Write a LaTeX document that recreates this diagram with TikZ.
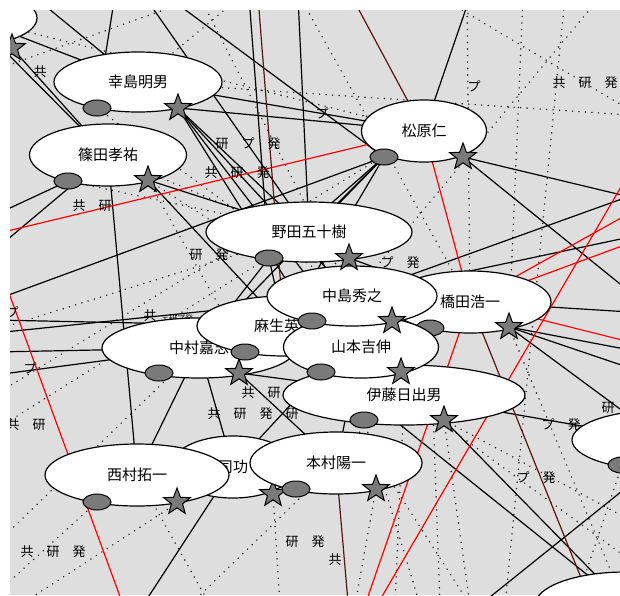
\documentclass[tikz,border=0pt]{standalone}
\usepackage{fontspec}
\newfontfamily\jp{Noto Sans CJK JP}
\usetikzlibrary{shapes.geometric}
\definecolor{bg}{RGB}{222,222,222}
\definecolor{portgray}{RGB}{122,122,122}
\definecolor{darkred}{RGB}{90,20,20}
\tikzset{
 conn/.style={line width=1.2pt, black},
 rconn/.style={line width=1.2pt, red},
 drconn/.style={line width=1.2pt, darkred},
 dconn/.style={line width=1.6pt, dash pattern=on 0pt off 6.5pt, line cap=round, black!90},
 person/.style={ellipse, draw, line width=1.2pt, fill=white, inner sep=0pt, font=\jp\fontsize{15}{17}\selectfont},
 port/.style={ellipse, draw, line width=1pt, fill=portgray, minimum width=28pt, minimum height=16pt, inner sep=0pt},
 starmark/.style={star, star points=5, star point ratio=2.4, draw, line width=1pt, fill=portgray, minimum size=28pt, inner sep=0pt},
 lbl/.style={font=\jp\fontsize{13}{15}\selectfont, inner sep=0pt},
}
\begin{document}
\begin{tikzpicture}[x=1pt,y=-1pt]
\fill[white] (0,0) rectangle (620,595);
\useasboundingbox (0,0) rectangle (620,595);
\fill[bg] (10,10) rectangle (620,595);
\begin{scope}
\clip (10,10) rectangle (620,595);
% centres and ports
\coordinate (n0) at (-28,18);  \coordinate (s0) at (12,48);
\coordinate (n1) at (138,82);  \coordinate (o1) at (97,108);  \coordinate (s1) at (178,108);
\coordinate (n2) at (108,155); \coordinate (o2) at (68,181);  \coordinate (s2) at (148,180);
\coordinate (n3) at (424,131); \coordinate (o3) at (384,157); \coordinate (s3) at (463,157);
\coordinate (n4) at (309,232); \coordinate (o4) at (269,258); \coordinate (s4) at (349,258);
\coordinate (n5) at (352,296); \coordinate (o5) at (312,321); \coordinate (s5) at (392,321);
\coordinate (n6) at (470,302); \coordinate (o6) at (430,328); \coordinate (s6) at (509,327);
\coordinate (n7) at (284,326); \coordinate (o7) at (245,352); \coordinate (s7) at (324,352);
\coordinate (n8) at (199,348); \coordinate (o8) at (159,373); \coordinate (s8) at (239,373);
\coordinate (n9) at (361,347); \coordinate (o9) at (321,372); \coordinate (s9) at (401,372);
\coordinate (n10) at (404,395); \coordinate (o10) at (364,420); \coordinate (s10) at (444,420);
\coordinate (n11) at (662,440); \coordinate (o11) at (622,465);
\coordinate (n12) at (137,475); \coordinate (o12) at (97,502); \coordinate (s12) at (177,502);
\coordinate (n13) at (233,467); \coordinate (s13) at (273,494);
\coordinate (n14) at (336,463); \coordinate (o14) at (296,489); \coordinate (s14) at (376,489);
\coordinate (n15) at (625,605);
\coordinate (p10) at (363,395);
% free ends
\coordinate (c1) at (32,-5);   \coordinate (c2) at (115,-5);  \coordinate (c4) at (145,-3);
\coordinate (c5) at (168,-3);  \coordinate (c6) at (298,-3);  \coordinate (c7) at (249,-3);
\coordinate (c8) at (470,-3);  \coordinate (c9) at (630,197); \coordinate (c10) at (630,292);
\coordinate (c11) at (-5,300); \coordinate (c12) at (-5,215); \coordinate (c13) at (-5,250);
\coordinate (c14) at (145,602); \coordinate (c15) at (630,196); \coordinate (c16) at (630,237);
\coordinate (c18) at (630,312); \coordinate (c19) at (630,350); \coordinate (c20) at (630,368);
\coordinate (c21) at (632,483); \coordinate (c22) at (480,605); \coordinate (c23) at (-5,320);
\coordinate (c24) at (-5,333); \coordinate (c25) at (-5,352); \coordinate (c26) at (-5,375);
\coordinate (c27) at (352,-3); \coordinate (c28) at (-5,234); \coordinate (c29) at (-5,255);
\coordinate (c30) at (122,602); \coordinate (c31) at (625,180); \coordinate (c32) at (377,605);
\coordinate (c33) at (365,605); \coordinate (c34) at (630,213); \coordinate (c35) at (630,243);
\coordinate (c36) at (630,342); \coordinate (c37) at (630,470); \coordinate (c38) at (636,490);
\coordinate (c39) at (590,600); \coordinate (c40) at (348,602); \coordinate (c41) at (258,-3);
\coordinate (c50) at (-5,70);  \coordinate (c51) at (200,-3); \coordinate (c52) at (240,-3);
\coordinate (c53) at (440,-3); \coordinate (c54) at (630,110); \coordinate (c55) at (300,-3);
\coordinate (c56) at (630,115);
\coordinate (c57) at (467,-3); \coordinate (c58) at (523,-3); \coordinate (c60) at (565,-3);
\coordinate (c62) at (505,605); \coordinate (c63) at (440,605); \coordinate (c64) at (470,605);
\coordinate (c65) at (420,605); \coordinate (c66) at (395,605); \coordinate (c67) at (355,605);
\coordinate (c68) at (575,605); \coordinate (c69) at (-5,545); \coordinate (c70) at (0,590);
\coordinate (c71) at (20,605); \coordinate (c72) at (210,605); \coordinate (c73) at (190,605);
\coordinate (c74) at (280,605); \coordinate (c75) at (-5,430); \coordinate (c76) at (-5,395);
\coordinate (c77) at (-5,330); \coordinate (c78) at (200,-3); \coordinate (c79) at (600,-3);
\coordinate (c80) at (630,520); \coordinate (c81) at (630,560);
% dotted connectors
\foreach \a/\b in {c50/c51, n1/c52, n0/n3, c53/c54, n1/c56, c57/n6, c58/s6, c60/c62,
  s6/n15, o6/c63, s10/c64, o10/c65, n10/c66, s14/c67, o11/c68, c69/n8, c70/o12, c71/n13,
  n12/c72, n14/c73, s13/c74, c75/n4, c76/n3, c77/n4, s2/o4, s2/o7, o1/n5, c78/n5,
  c79/n5, s10/c80, n10/c81, o2/n4, n2/s4, o9/c64, c55/n6}
  {\draw[dconn] (\a) -- (\b);}
% solid connectors
\foreach \a/\b in {n0/n1, c1/n1, c2/o1, c4/n4, c5/o3, c6/n4, c7/o4, c8/n3, n1/n3, s1/n3,
  s3/c9, s3/c10, o3/n4, o3/o4, o3/n8, o3/n7, o3/c11, s1/n4, s1/n5, s1/n9, s1/o5, s2/n4,
  s2/n7, s0/n2, n0/n2, c12/o2, c13/n2, n2/n12, n8/n12, n13/c14, s8/n14, s8/n10, n8/n13,
  o4/n8, o4/n7, n4/n9, n5/n9, s4/n6, n5/c15, n5/c16, n6/c18, s6/c19, s6/c20, s6/n11,
  n10/n11, p10/n15, s10/n15, c21/c22, n9/n14, o9/n13, c23/n7, c24/n5, c25/n8, c26/n8}
  {\draw[conn] (\a) -- (\b);}
% red connectors
\foreach \a/\b in {c28/n3, c29/c30, n3/n6, c31/c32, n6/c33, c34/n6, c35/n6, c36/n6,
  c37/n15, c38/n15}
  {\draw[rconn] (\a) -- (\b);}
\foreach \a/\b in {c27/n3, n6/c39, n14/c40, c41/n7}
  {\draw[drconn] (\a) -- (\b);}
% labels
\node[lbl] (L1) at (40,72) {共};
\node[lbl] (L2) at (248,144) {研\quad プ\quad 発};
\node[lbl] (L3) at (237,173) {共\quad 研\quad 発};
\node[lbl] (L4) at (92,206) {共\quad 研};
\node[lbl] (L5) at (209,255) {研\quad 発};
\node[lbl] (L6) at (150,316) {共};
\node[lbl, font=\jp\fontsize{8}{9}\selectfont] (L6b) at (177,318) {ェ研プ発};
\node[lbl] (L7) at (12,312) {プ};
\node[lbl] (L8) at (30,368) {プ};
\node[lbl] (L9) at (26,425) {共\quad 研};
\node[lbl] (L10) at (261,393) {共\quad 研};
\node[lbl] (L11) at (253,414) {共\quad 研\quad 発\quad 研};
\node[lbl] (L12) at (305,542) {研\quad 発};
\node[lbl] (L13) at (335,560) {共};
\node[lbl] (L14) at (53,552) {共\quad 研\quad 発};
\node[lbl] (L15) at (561,425) {プ\quad 発};
\node[lbl] (L16) at (536,478) {プ\quad 発};
\node[lbl] (L17) at (608,408) {研};
\node[lbl] (L18) at (474,86) {プ};
\node[lbl] (L19) at (585,83) {共\quad 研\quad 発};
\node[lbl] (L20) at (322,113) {プ};
\node[lbl] (L21) at (400,263) {プ\quad 発};
% people (drawn in stacking order)
\node[person, minimum width=130pt, minimum height=54pt] (P0) at (n0) {};
\node[starmark] (S0) at (s0) {};
\node[person, minimum width=168pt, minimum height=60pt] (P1) at (n1) {幸島明男};
\node[port] (O1) at (o1) {}; \node[starmark] (S1) at (s1) {};
\node[person, minimum width=157pt, minimum height=62pt] (P2) at (n2) {篠田孝祐};
\node[port] (O2) at (o2) {}; \node[starmark] (S2) at (s2) {};
\node[person, minimum width=125pt, minimum height=62pt] (P3) at (n3) {松原仁};
\node[port] (O3) at (o3) {}; \node[starmark] (S3) at (s3) {};
\node[person, minimum width=162pt, minimum height=62pt] (P6) at (n6) {橋田浩一};
\node[port] (O6) at (o6) {}; \node[starmark] (S6) at (s6) {};
\node[person, minimum width=194pt, minimum height=60pt] (P8) at (n8) {中村嘉志};
\node[port] (O8) at (o8) {}; \node[starmark] (S8) at (s8) {};
\node[person, minimum width=174pt, minimum height=60pt] (P7) at (n7) {麻生英樹};
\node[port] (O7) at (o7) {}; \node[starmark] (S7) at (s7) {};
\node[person, minimum width=242pt, minimum height=60pt] (P10) at (n10) {伊藤日出男};
\node[port] (O10) at (o10) {}; \node[starmark] (S10) at (s10) {};
\node[person, minimum width=155pt, minimum height=62pt] (P9) at (n9) {山本吉伸};
\node[port] (O9) at (o9) {}; \node[starmark] (S9) at (s9) {};
\node[person, minimum width=170pt, minimum height=60pt] (P5) at (n5) {中島秀之};
\node[port] (O5) at (o5) {}; \node[starmark] (S5) at (s5) {};
\node[person, minimum width=206pt, minimum height=60pt] (P4) at (n4) {野田五十樹};
\node[port] (O4) at (o4) {}; \node[starmark] (S4) at (s4) {};
\node[person, minimum width=125pt, minimum height=62pt] (P13) at (n13) {司功};
\node[starmark] (S13) at (s13) {};
\node[person, minimum width=184pt, minimum height=62pt] (P12) at (n12) {西村拓一};
\node[port] (O12) at (o12) {}; \node[starmark] (S12) at (s12) {};
\node[person, minimum width=172pt, minimum height=62pt] (P14) at (n14) {本村陽一};
\node[port] (O14) at (o14) {}; \node[starmark] (S14) at (s14) {};
\node[person, minimum width=180pt, minimum height=60pt] (P11) at (n11) {};
\node[port] (O11) at (o11) {};
\node[person, minimum width=180pt, minimum height=66pt] (P15) at (n15) {};
\end{scope}
\end{tikzpicture}
\end{document}
